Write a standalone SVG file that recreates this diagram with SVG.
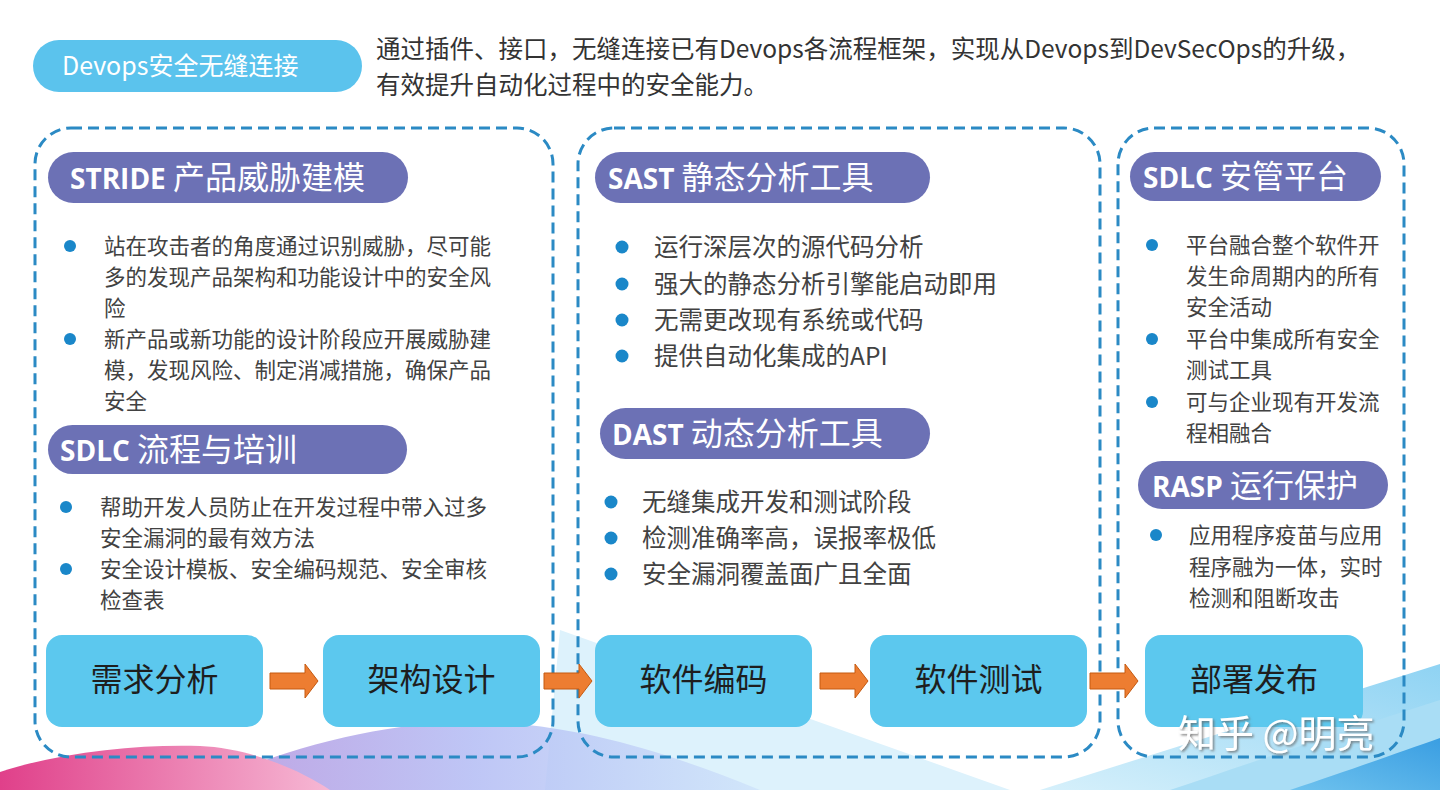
<svg xmlns="http://www.w3.org/2000/svg" width="1440" height="790" viewBox="0 0 1440 790">
  <style>
    .panel { fill: none; stroke: #2B8AC4; stroke-width: 3; stroke-dasharray: 11 6; }
    .pill { fill: #6C71B5; }
    .pilltxt { fill: #ffffff; font-family: "Noto Sans CJK SC", sans-serif; font-size: 32px; }
    .lat { font-family: "Open Sans", "Noto Sans", sans-serif; font-weight: 700; font-size: 28px; }
    .body { fill: #424242; font-family: "Noto Sans CJK SC", sans-serif; font-size: 21.5px; }
    .body2 { fill: #424242; font-family: "Noto Sans CJK SC", sans-serif; font-size: 24.5px; }
    .dot { fill: #1A87C9; }
    .stage { fill: #5CC8EE; }
    .stagetxt { fill: #1E1E1E; font-family: "Noto Sans CJK SC", sans-serif; font-size: 32px; text-anchor: middle; }
    .arrow { fill: #ED7D31; stroke: #C55A11; stroke-width: 1; }
    .head { fill: #333333; font-family: "Noto Sans CJK SC", sans-serif; font-size: 24.5px; }
  </style>
  <defs>
    <linearGradient id="gPink" x1="0" y1="0" x2="1" y2="0">
      <stop offset="0" stop-color="#E0408A"/>
      <stop offset="1" stop-color="#F6B8D4"/>
    </linearGradient>
    <linearGradient id="gLav" x1="0" y1="0" x2="1" y2="0">
      <stop offset="0" stop-color="#B38FDC"/>
      <stop offset="0.5" stop-color="#B3BCF4"/>
      <stop offset="1" stop-color="#CFE4FA"/>
    </linearGradient>
    <linearGradient id="gBlue" x1="0" y1="1" x2="1" y2="0">
      <stop offset="0" stop-color="#D6F0FB"/>
      <stop offset="1" stop-color="#8FD3F3"/>
    </linearGradient>
    <linearGradient id="gBlue2" x1="0" y1="1" x2="1" y2="0">
      <stop offset="0" stop-color="#6EC2EE"/>
      <stop offset="1" stop-color="#3A9EE2"/>
    </linearGradient>
    <path id="arw" d="M0,-8 H35 V-17 L48,0 L35,17 V8 H0 Z"/>
    <filter id="shadow" x="-10%" y="-30%" width="130%" height="160%">
      <feDropShadow dx="1.5" dy="1.5" stdDeviation="1.2" flood-color="#666666" flood-opacity="0.8"/>
    </filter>
  </defs>

  <rect width="1440" height="790" fill="#ffffff"/>

  <!-- background decoration -->
  <g id="background">
    <path d="M560,630 L1010,790 L545,790 Z" fill="#DDF2FC"/>
    <path d="M190,790 C300,740 400,722 470,722 C560,722 650,745 760,790 Z" fill="url(#gLav)" opacity="0.85"/>
    <path d="M0,790 L0,772 C60,752 140,744 200,746 C250,748 300,770 330,790 Z" fill="url(#gPink)"/>
    <path d="M1040,790 L1440,664 L1440,790 Z" fill="url(#gBlue)"/>
    <path d="M1170,790 C1260,760 1360,725 1440,700 L1440,790 Z" fill="#A9DDF5"/>
    <path d="M1290,790 C1350,770 1400,752 1440,738 L1440,790 Z" fill="url(#gBlue2)"/>
  </g>

  <!-- top banner -->
  <g id="banner">
    <rect x="33" y="40" width="329" height="52" rx="26" fill="#5BC3ED"/>
    <text x="62" y="75" fill="#ffffff" font-family="Noto Sans CJK SC, sans-serif" font-size="25">Devops安全无缝连接</text>
  </g>
  <g id="intro">
    <text class="head" x="376" y="58">通过插件、接口，无缝连接已有Devops各流程框架，实现从Devops到DevSecOps的升级，</text>
    <text class="head" x="376" y="94">有效提升自动化过程中的安全能力。</text>
  </g>

  <!-- panels -->
  <g id="panel-design">
    <rect class="panel" x="35" y="128" width="518" height="629" rx="36"/>
    <rect class="pill" x="48" y="152" width="360" height="51" rx="25.5"/>
    <text class="pilltxt" x="70" y="189"><tspan class="lat">STRIDE</tspan> 产品威胁建模</text>
    <circle class="dot" cx="70" cy="246" r="6"/>
    <text class="body" x="104" y="254">站在攻击者的角度通过识别威胁，尽可能</text>
    <text class="body" x="104" y="285">多的发现产品架构和功能设计中的安全风</text>
    <text class="body" x="104" y="316">险</text>
    <circle class="dot" cx="70" cy="339" r="6"/>
    <text class="body" x="104" y="347">新产品或新功能的设计阶段应开展威胁建</text>
    <text class="body" x="104" y="378">模，发现风险、制定消减措施，确保产品</text>
    <text class="body" x="104" y="409">安全</text>

    <rect class="pill" x="48" y="425" width="359" height="49" rx="24.5"/>
    <text class="pilltxt" x="60" y="461"><tspan class="lat">SDLC</tspan> 流程与培训</text>
    <circle class="dot" cx="66" cy="507" r="6"/>
    <text class="body" x="100" y="515">帮助开发人员防止在开发过程中带入过多</text>
    <text class="body" x="100" y="546">安全漏洞的最有效方法</text>
    <circle class="dot" cx="66" cy="569" r="6"/>
    <text class="body" x="100" y="577">安全设计模板、安全编码规范、安全审核</text>
    <text class="body" x="100" y="608">检查表</text>
  </g>

  <g id="panel-code">
    <rect class="panel" x="578" y="128" width="522" height="629" rx="36"/>
    <rect class="pill" x="595" y="152" width="335" height="51" rx="25.5"/>
    <text class="pilltxt" x="608" y="189"><tspan class="lat">SAST</tspan> 静态分析工具</text>
    <circle class="dot" cx="622" cy="247" r="6.5"/>
    <text class="body2" x="654" y="256">运行深层次的源代码分析</text>
    <circle class="dot" cx="622" cy="284" r="6.5"/>
    <text class="body2" x="654" y="293">强大的静态分析引擎能启动即用</text>
    <circle class="dot" cx="622" cy="320" r="6.5"/>
    <text class="body2" x="654" y="329">无需更改现有系统或代码</text>
    <circle class="dot" cx="622" cy="356" r="6.5"/>
    <text class="body2" x="654" y="365">提供自动化集成的API</text>

    <rect class="pill" x="600" y="408" width="330" height="51" rx="25.5"/>
    <text class="pilltxt" x="612" y="445"><tspan class="lat">DAST</tspan> 动态分析工具</text>
    <circle class="dot" cx="611" cy="502" r="6.5"/>
    <text class="body2" x="642" y="511">无缝集成开发和测试阶段</text>
    <circle class="dot" cx="611" cy="538" r="6.5"/>
    <text class="body2" x="642" y="547">检测准确率高，误报率极低</text>
    <circle class="dot" cx="611" cy="574" r="6.5"/>
    <text class="body2" x="642" y="583">安全漏洞覆盖面广且全面</text>
  </g>

  <g id="panel-deploy">
    <rect class="panel" x="1118" y="128" width="286" height="629" rx="36"/>
    <rect class="pill" x="1130" y="152" width="251" height="49" rx="24.5"/>
    <text class="pilltxt" x="1143" y="188"><tspan class="lat">SDLC</tspan> 安管平台</text>
    <circle class="dot" cx="1152" cy="245" r="6"/>
    <text class="body" x="1186" y="253">平台融合整个软件开</text>
    <text class="body" x="1186" y="284">发生命周期内的所有</text>
    <text class="body" x="1186" y="315">安全活动</text>
    <circle class="dot" cx="1152" cy="339" r="6"/>
    <text class="body" x="1186" y="347">平台中集成所有安全</text>
    <text class="body" x="1186" y="378">测试工具</text>
    <circle class="dot" cx="1152" cy="402" r="6"/>
    <text class="body" x="1186" y="410">可与企业现有开发流</text>
    <text class="body" x="1186" y="441">程相融合</text>

    <rect class="pill" x="1138" y="461" width="250" height="48" rx="24"/>
    <text class="pilltxt" x="1152" y="497"><tspan class="lat">RASP</tspan> 运行保护</text>
    <circle class="dot" cx="1156" cy="535" r="6"/>
    <text class="body" x="1189" y="543">应用程序疫苗与应用</text>
    <text class="body" x="1189" y="575">程序融为一体，实时</text>
    <text class="body" x="1189" y="606">检测和阻断攻击</text>
  </g>

  <!-- stages -->
  <g id="stage-requirements">
    <rect class="stage" x="46" y="635" width="217" height="92" rx="16"/>
    <text class="stagetxt" x="154.5" y="691">需求分析</text>
  </g>
  <g id="stage-architecture">
    <rect class="stage" x="323" y="635" width="217" height="92" rx="16"/>
    <text class="stagetxt" x="431.5" y="691">架构设计</text>
  </g>
  <g id="stage-coding">
    <rect class="stage" x="595" y="635" width="217" height="92" rx="16"/>
    <text class="stagetxt" x="703.5" y="691">软件编码</text>
  </g>
  <g id="stage-testing">
    <rect class="stage" x="870" y="635" width="217" height="92" rx="16"/>
    <text class="stagetxt" x="978.5" y="691">软件测试</text>
  </g>
  <g id="stage-release">
    <rect class="stage" x="1145" y="635" width="218" height="92" rx="16"/>
    <text class="stagetxt" x="1254" y="691">部署发布</text>
  </g>

  <!-- connectors -->
  <g id="connectors">
    <use href="#arw" class="arrow" transform="translate(270,681)"/>
    <use href="#arw" class="arrow" transform="translate(544,681)"/>
    <use href="#arw" class="arrow" transform="translate(820,681)"/>
    <use href="#arw" class="arrow" transform="translate(1090,681)"/>
  </g>

  <!-- watermark -->
  <g id="watermark">
    <text x="1178" y="747" fill="#ffffff" font-family="Noto Sans CJK SC, sans-serif" font-size="38" filter="url(#shadow)">知乎 @明亮</text>
  </g>
</svg>
